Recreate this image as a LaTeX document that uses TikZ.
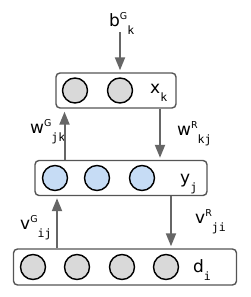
\documentclass[tikz,border=0pt]{standalone}
\usepackage{fontspec}
\setmainfont{DejaVu Sans}
\setmonofont{DejaVu Sans Mono}
\usetikzlibrary{arrows.meta,positioning,calc}
\usepackage{xcolor}
\definecolor{unitgray}{HTML}{D9D9D9}
\definecolor{unitblue}{HTML}{C6DCF5}
\definecolor{arrowgray}{HTML}{666666}
\definecolor{framegray}{HTML}{555555}
\newcommand{\wlabel}[3]{#1\raisebox{7pt}{\fontsize{9.5}{9.5}\selectfont #2}\raisebox{-8pt}{\fontsize{11.5}{11.5}\selectfont\ttfamily #3}}
\tikzset{
  layer/.style={draw=framegray, line width=1.4pt, rounded corners=4pt, fill=white, inner sep=0pt},
  unit/.style={circle, draw=black, line width=1.4pt, minimum size=25pt, inner sep=0pt},
  conn/.style={draw=arrowgray, line width=2pt, -{Triangle[length=13pt,width=10pt]}},
  lbl/.style={font=\fontsize{17}{17}\selectfont, inner sep=0pt, anchor=base west}
}

\begin{document}
\begin{tikzpicture}[x=1pt,y=-1pt]
  \useasboundingbox (0,0) rectangle (250,297);
  % layers
  \node[layer, minimum width=120, minimum height=35] (xbox) at (116,90.5) {};
  \node[layer, minimum width=172, minimum height=35] (ybox) at (121,178) {};
  \node[layer, minimum width=223, minimum height=36] (dbox) at (125,267) {};
  % units
  \foreach \i/\x in {1/75,2/120} {
    \node[unit, fill=unitgray] (x\i) at (\x,90.5) {};
  }
  \foreach \i/\x in {1/55,2/97,3/142} {
    \node[unit, fill=unitblue] (y\i) at (\x,178) {};
  }
  \foreach \i/\x in {1/33,2/77,3/122,4/166} {
    \node[unit, fill=unitgray] (d\i) at (\x,267) {};
  }
  % layer names
  \node[lbl] (xname) at (150,93) {\wlabel{x}{}{k}};
  \node[lbl] (yname) at (180,183) {\wlabel{y}{}{j}};
  \node[lbl] (dname) at (193,272) {\wlabel{d}{}{i}};
  % weights
  \node[lbl] (bG) at (109,27) {\wlabel{b}{G}{k}};
  \node[lbl] (wG) at (30,133) {\wlabel{w}{G}{jk}};
  \node[lbl] (wR) at (177,135) {\wlabel{w}{R}{kj}};
  \node[lbl] (vG) at (20,229) {\wlabel{v}{G}{ij}};
  \node[lbl] (vR) at (195,223) {\wlabel{v}{R}{ji}};
  % connectors
  \coordinate (cwG) at (64.5,0);
  \coordinate (cwR) at (160,0);
  \coordinate (cvG) at (57,0);
  \coordinate (cvR) at (171,0);
  \draw[conn] ($(bG.south -| x2)+(0,-3)$) -- ($(xbox.north -| x2)+(0,-2)$);
  \draw[conn] (ybox.north -| cwG) -- ($(xbox.south -| cwG)+(0,3)$);
  \draw[conn] (xbox.south -| cwR) -- ($(ybox.north -| cwR)+(0,-2)$);
  \draw[conn] (dbox.north -| cvG) -- ($(ybox.south -| cvG)+(0,2)$);
  \draw[conn] (ybox.south -| cvR) -- ($(dbox.north -| cvR)+(0,-2)$);
\end{tikzpicture}
\end{document}
